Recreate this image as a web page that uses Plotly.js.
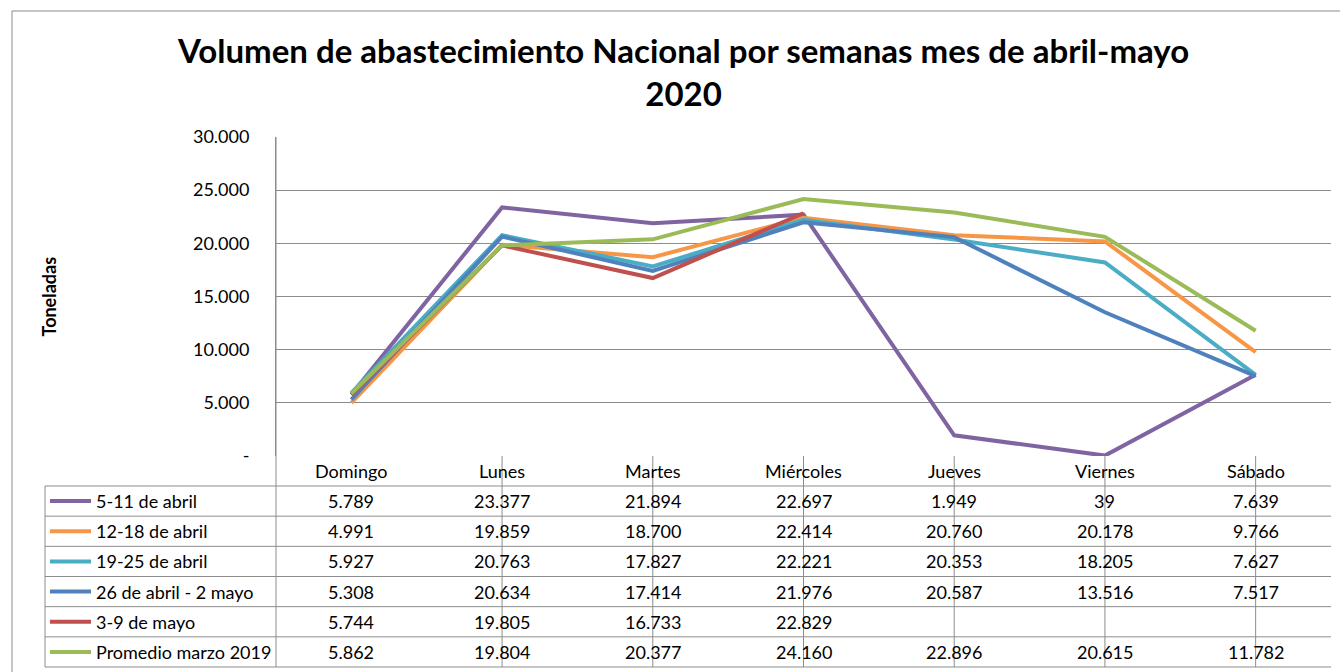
<!DOCTYPE html>
<html>
<head>
<meta charset="utf-8">
<script src="https://cdn.plot.ly/plotly-3.0.1.min.js"></script>
<style>html,body{margin:0;padding:0;background:#fff;}#chart{width:1340px;height:672px;}</style>
</head>
<body>
<div id="chart"></div>
<script>
// ---- data ----
const days = ["Domingo", "Lunes", "Martes", "Miércoles", "Jueves", "Viernes", "Sábado"];
const seriesNames = ["5-11 de abril", "12-18 de abril", "19-25 de abril", "26 de abril - 2 mayo", "3-9 de mayo", "Promedio marzo 2019"];
const s1 = [5789, 23377, 21894, 22697, 1949, 39, 7639];
const s2 = [4991, 19859, 18700, 22414, 20760, 20178, 9766];
const s3 = [5927, 20763, 17827, 22221, 20353, 18205, 7627];
const s4 = [5308, 20634, 17414, 21976, 20587, 13516, 7517];
const s5 = [5744, 19805, 16733, 22829, null, null, null];
const s6 = [5862, 19804, 20377, 24160, 22896, 20615, 11782];
const yTicks = [0, 5000, 10000, 15000, 20000, 25000, 30000];
const titleText = "Volumen de abastecimiento Nacional por semanas mes de abril-mayo<br>2020";
const yTitle = "Toneladas";

// ---- style ----
const colors = ["#8064A2", "#F79646", "#4BACC6", "#4F81BD", "#C0504D", "#9BBB59"];
const allSeries = [s1, s2, s3, s4, s5, s6];
const FONT = "Lato, 'Open Sans', sans-serif";
const FS = 18;
const W = 1340, H = 672;
const M = {l: 276, r: 9, t: 137, b: 216};
const plotW = W - M.l - M.r, plotH = H - M.t - M.b;
const gridCol = "#8c8c8c";

function fmt(v) {
  if (v === null || v === undefined) return "";
  if (v === 0) return "-";
  const s = String(Math.round(v));
  return s.replace(/\B(?=(\d{3})+(?!\d))/g, ".");
}
const px2x = px => (px - M.l) / plotW;
const py2y = py => (H - M.b - py) / plotH;

const xRange = [-0.5, days.length - 0.5];
const catEdge = i => (i - xRange[0]) / (xRange[1] - xRange[0]);

const traces = allSeries.map((vals, k) => ({
  type: "scatter", mode: "lines", x: days, y: vals, name: seriesNames[k],
  line: {color: colors[k], width: 4}, connectgaps: false, hoverinfo: "x+y+name"
}));

// table geometry
const headTop = H - M.b;          // 456
const headBot = headTop + 30;     // 486
const tableBot = 667;
const rowH = (tableBot - headBot) / seriesNames.length;
const legLeft = 45;

const shapes = [];
const annotations = [];
const lineStyle = {color: gridCol, width: 1};

shapes.push({type: "rect", xref: "paper", yref: "paper", x0: px2x(12), x1: px2x(1346), y0: py2y(11), y1: py2y(680), line: {color: "#8c8c8c", width: 1}});

for (let r = 0; r <= seriesNames.length; r++) {
  const py = headBot + r * rowH;
  shapes.push({type: "line", xref: "paper", yref: "paper", x0: px2x(legLeft), x1: 1, y0: py2y(py), y1: py2y(py), line: lineStyle});
}
shapes.push({type: "line", xref: "paper", yref: "paper", x0: px2x(legLeft), x1: px2x(legLeft), y0: py2y(headBot), y1: py2y(tableBot), line: lineStyle});
shapes.push({type: "line", xref: "paper", yref: "paper", x0: 0, x1: 0, y0: 1, y1: py2y(tableBot), line: lineStyle});
for (let i = 1; i <= days.length; i++) {
  const xp = catEdge(i);
  shapes.push({type: "line", xref: "paper", yref: "paper", x0: xp, x1: xp, y0: 0, y1: py2y(tableBot), line: lineStyle});
}
days.forEach(d => annotations.push({xref: "x", yref: "paper", x: d, y: py2y((headTop + headBot) / 2), text: d, showarrow: false, xanchor: "center", yanchor: "middle", font: {family: FONT, size: FS, color: "#000"}}));
seriesNames.forEach((nm, r) => {
  const cy = py2y(headBot + (r + 0.5) * rowH);
  shapes.push({type: "line", xref: "paper", yref: "paper", x0: px2x(50), x1: px2x(91), y0: cy, y1: cy, line: {color: colors[r], width: 4}});
  annotations.push({xref: "paper", yref: "paper", x: px2x(94), y: cy, text: nm, showarrow: false, xanchor: "left", yanchor: "middle", font: {family: FONT, size: FS, color: "#000"}});
  allSeries[r].forEach((v, i) => {
    if (v === null) return;
    annotations.push({xref: "x", yref: "paper", x: days[i], y: cy, text: fmt(v), showarrow: false, xanchor: "center", yanchor: "middle", font: {family: FONT, size: FS, color: "#000"}});
  });
});
annotations.push({xref: "paper", yref: "paper", x: px2x(48), y: 0.5, text: "<b>" + yTitle + "</b>", textangle: -90, showarrow: false, xanchor: "center", yanchor: "middle", font: {family: FONT, size: 18, color: "#000"}});
// title
annotations.push({xref: "paper", yref: "paper", x: px2x(683), y: py2y(71), text: "<b>" + titleText + "</b>", showarrow: false, xanchor: "center", yanchor: "middle", align: "center", font: {family: FONT, size: 33, color: "#000"}});

const layout = {
  width: W, height: H,
  margin: M,
  paper_bgcolor: "#fff", plot_bgcolor: "#fff",
  showlegend: false,
  xaxis: {type: "category", range: xRange, showticklabels: false, showgrid: false, zeroline: false, showline: false, ticks: ""},
  yaxis: {range: [0, 30000], tickvals: yTicks, ticktext: yTicks.map(fmt), showgrid: true, gridcolor: gridCol, gridwidth: 1, zeroline: false, showline: true, linecolor: gridCol, ticks: "", ticklabelstandoff: 22, tickfont: {family: FONT, size: FS, color: "#000"}},
  shapes: shapes,
  annotations: annotations
};
Plotly.newPlot("chart", traces, layout, {displayModeBar: false, staticPlot: true});
</script>
</body>
</html>
